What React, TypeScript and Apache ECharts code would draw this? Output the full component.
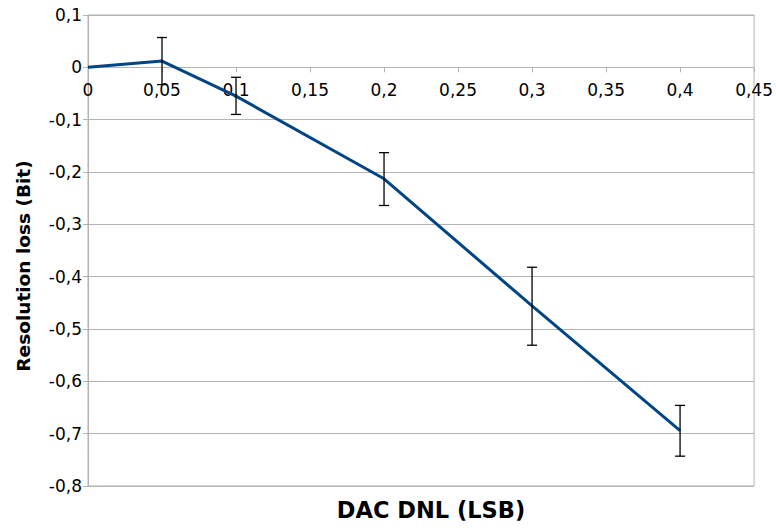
import React, { useEffect, useRef } from "react";
import * as echarts from "echarts";

const dnl = [0, 0.05, 0.1, 0.2, 0.3, 0.4];
const loss = [0, 0.012, -0.055, -0.213, -0.456, -0.694];
const errLow = [null, -0.033, -0.09, -0.264, -0.531, -0.743];
const errHigh = [null, 0.057, -0.019, -0.163, -0.382, -0.646];

const FONT = "DejaVu Sans";
const Y_MIN = -0.8;
const Y_MAX = 0.1;

export default function App() {
  const ref = useRef<HTMLDivElement>(null);
  useEffect(() => {
    const chart = echarts.init(ref.current!, null, { renderer: "svg" });
    const lineData = dnl.map((x, i) => [x, loss[i]]);
    const errData = dnl
      .map((x, i) => (errLow[i] === null ? null : [x, errLow[i], errHigh[i]]))
      .filter((d) => d !== null);
    const top = 15;
    const bottom = 42;
    const plotH = 528 - top - bottom;
    const zeroOffset = -plotH * ((0 - Y_MIN) / (Y_MAX - Y_MIN));
    chart.setOption({
      animation: false,
      backgroundColor: "#ffffff",
      grid: {
        left: 88,
        right: 21,
        top,
        bottom,
        show: true,
        borderColor: "#b3b3b3",
        borderWidth: 1,
      },
      xAxis: {
        type: "value",
        min: 0,
        max: 0.45,
        interval: 0.05,
        position: "bottom",
        offset: zeroOffset,
        axisLine: { onZero: false, lineStyle: { color: "#b3b3b3", width: 1 } },
        axisTick: { show: true, length: 5, lineStyle: { color: "#b3b3b3" } },
        splitLine: { show: false },
        axisLabel: {
          color: "#000",
          fontFamily: FONT,
          fontSize: 17,
          margin: 14,
          showMaxLabel: true,
          formatter: (v: number) => String(Math.round(v * 100) / 100).replace(".", ","),
        },
      },
      yAxis: {
        type: "value",
        min: Y_MIN,
        max: Y_MAX,
        interval: 0.1,
        axisLine: { show: true, lineStyle: { color: "#b3b3b3", width: 1 } },
        axisTick: { show: true, length: 5, lineStyle: { color: "#b3b3b3" } },
        splitLine: { show: true, lineStyle: { color: "#b3b3b3", width: 1 } },
        axisLabel: {
          color: "#000",
          fontFamily: FONT,
          fontSize: 17,
          margin: 6,
          formatter: (v: number) => String(Math.round(v * 10) / 10).replace(".", ","),
        },
      },
      graphic: [
        {
          type: "text",
          x: 431,
          y: 510,
          style: {
            text: "DAC DNL (LSB)",
            fontFamily: FONT,
            fontWeight: "bold",
            fontSize: 22.5,
            fill: "#000",
            align: "center",
            verticalAlign: "middle",
          },
        },
        {
          type: "text",
          x: 23,
          y: 266,
          rotation: Math.PI / 2,
          style: {
            text: "Resolution loss (Bit)",
            fontFamily: FONT,
            fontWeight: "bold",
            fontSize: 18.5,
            fill: "#000",
            align: "center",
            verticalAlign: "middle",
          },
        },
      ],
      series: [
        {
          type: "line",
          data: lineData,
          showSymbol: false,
          symbol: "none",
          lineStyle: { color: "#004586", width: 3 },
          z: 3,
        },
        {
          type: "custom",
          data: errData,
          z: 4,
          renderItem: (params: any, api: any) => {
            const x = api.value(0);
            const lo = api.coord([x, api.value(1)]);
            const hi = api.coord([x, api.value(2)]);
            const hw = 5;
            const style = { stroke: "#000", lineWidth: 1.3 };
            return {
              type: "group",
              children: [
                { type: "line", shape: { x1: lo[0], y1: lo[1], x2: hi[0], y2: hi[1] }, style },
                { type: "line", shape: { x1: hi[0] - hw, y1: hi[1], x2: hi[0] + hw, y2: hi[1] }, style },
                { type: "line", shape: { x1: lo[0] - hw, y1: lo[1], x2: lo[0] + hw, y2: lo[1] }, style },
              ],
            };
          },
        },
      ],
    });
    return () => chart.dispose();
  }, []);
  return <div ref={ref} style={{ width: 776, height: 528, position: "absolute", left: 0, top: 0 }} />;
}
